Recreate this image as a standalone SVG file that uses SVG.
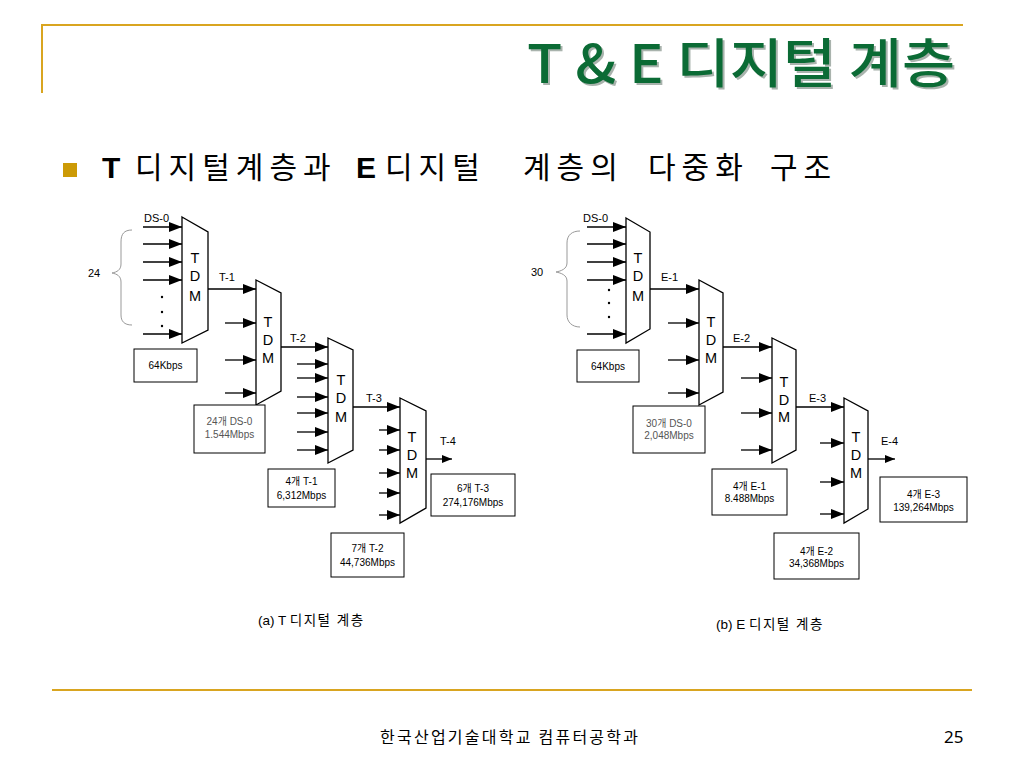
<svg xmlns="http://www.w3.org/2000/svg" width="1024" height="768" viewBox="0 0 1024 768">
<style>
.tdm{fill:#fff;stroke:#000;stroke-width:1.3}
.tl{font-family:"Liberation Sans",Arial,sans-serif;font-size:14.5px;fill:#000;text-anchor:middle}
.lbl{font-family:"Liberation Sans",Arial,sans-serif;font-size:11px;fill:#000}
.box{fill:#fff;stroke:#000;stroke-width:1}
.bt{font-family:"Liberation Sans","Noto Sans CJK KR",sans-serif;font-size:10px;fill:#000;text-anchor:middle}
.gray{fill:#555}
.ar{stroke:#000;stroke-width:1.3;fill:none;marker-end:url(#ah)}
.ao{stroke:#000;stroke-width:1.3;fill:none;marker-end:url(#ahs)}
.brace{fill:none;stroke:#999;stroke-width:1}
.gold{stroke:#d9a520;stroke-width:2;fill:none}
.cap{font-family:"Liberation Sans","Noto Sans CJK KR",sans-serif;font-size:13.5px;fill:#000}
.capk{letter-spacing:1.5px}
.sub{font-family:"Noto Sans CJK KR",sans-serif;font-size:30px;fill:#000;letter-spacing:6px}
.subl{font-family:"Liberation Sans",sans-serif;font-size:30px;font-weight:700;fill:#000}
</style>
<defs>
<marker id="ah" markerUnits="userSpaceOnUse" markerWidth="13" markerHeight="10" refX="13" refY="5" orient="auto"><path d="M0,0 L13,5 L0,10 z" fill="#000"/></marker>
<marker id="ahs" markerUnits="userSpaceOnUse" markerWidth="10" markerHeight="8" refX="10" refY="4" orient="auto"><path d="M0,0 L10,4 L0,8 z" fill="#000"/></marker>
</defs>
<rect width="1024" height="768" fill="#fff"/>
<g id="frame">
<path class="gold" d="M42,93 L42,25 L963,25"/>
<path class="gold" d="M52,690 L972,690"/>
</g>
<g id="title">
<text x="529" y="85" font-family="'Noto Sans CJK KR',sans-serif" font-size="53" font-weight="500" fill="#a9b3ad" textLength="428" lengthAdjust="spacingAndGlyphs">T &amp; E 디지털 계층</text>
<text x="527" y="83" font-family="'Noto Sans CJK KR',sans-serif" font-size="53" font-weight="500" fill="#0b6b35" textLength="428" lengthAdjust="spacingAndGlyphs">T &amp; E 디지털 계층</text>
</g>
<g id="subtitle">
<rect x="63" y="163" width="14" height="14" fill="#cc9a06"/>
<text class="subl" x="102" y="178">T</text>
<text class="sub" x="135" y="178">디지털계층과</text>
<text class="subl" x="356" y="178">E</text>
<text class="sub" x="385" y="178">디지털</text>
<text class="sub" x="523" y="178">계층의</text>
<text class="sub" x="648" y="178">다중화</text>
<text class="sub" x="770" y="178">구조</text>
</g>
<g id="connectors">
<line class="ar" x1="143" y1="227" x2="182" y2="227"/>
<line class="ar" x1="143" y1="244" x2="182" y2="244"/>
<line class="ar" x1="143" y1="262" x2="182" y2="262"/>
<line class="ar" x1="143" y1="280" x2="182" y2="280"/>
<line class="ar" x1="143" y1="334" x2="182" y2="334"/>
<line class="ar" x1="208" y1="289" x2="256" y2="289"/>
<line class="ar" x1="225" y1="323" x2="256" y2="323"/>
<line class="ar" x1="225" y1="360" x2="256" y2="360"/>
<line class="ar" x1="225" y1="393" x2="256" y2="393"/>
<line class="ar" x1="281" y1="347" x2="328" y2="347"/>
<line class="ar" x1="297" y1="364" x2="328" y2="364"/>
<line class="ar" x1="297" y1="378" x2="328" y2="378"/>
<line class="ar" x1="297" y1="397" x2="328" y2="397"/>
<line class="ar" x1="297" y1="413" x2="328" y2="413"/>
<line class="ar" x1="297" y1="432" x2="328" y2="432"/>
<line class="ar" x1="297" y1="450" x2="328" y2="450"/>
<line class="ar" x1="353" y1="407" x2="400" y2="407"/>
<line class="ar" x1="379" y1="430" x2="400" y2="430"/>
<line class="ar" x1="379" y1="450" x2="400" y2="450"/>
<line class="ar" x1="379" y1="473" x2="400" y2="473"/>
<line class="ar" x1="379" y1="493" x2="400" y2="493"/>
<line class="ar" x1="379" y1="515" x2="400" y2="515"/>
<line class="ao" x1="426" y1="459" x2="452" y2="459"/>
<line class="ar" x1="587" y1="227" x2="626" y2="227"/>
<line class="ar" x1="587" y1="244" x2="626" y2="244"/>
<line class="ar" x1="587" y1="262" x2="626" y2="262"/>
<line class="ar" x1="587" y1="280" x2="626" y2="280"/>
<line class="ar" x1="587" y1="334" x2="626" y2="334"/>
<line class="ar" x1="650" y1="289" x2="699" y2="289"/>
<line class="ar" x1="668" y1="323" x2="699" y2="323"/>
<line class="ar" x1="668" y1="360" x2="699" y2="360"/>
<line class="ar" x1="668" y1="393" x2="699" y2="393"/>
<line class="ar" x1="723" y1="347" x2="772" y2="347"/>
<line class="ar" x1="741" y1="378" x2="772" y2="378"/>
<line class="ar" x1="741" y1="413" x2="772" y2="413"/>
<line class="ar" x1="741" y1="450" x2="772" y2="450"/>
<line class="ar" x1="796" y1="407" x2="844" y2="407"/>
<line class="ar" x1="820" y1="443" x2="844" y2="443"/>
<line class="ar" x1="820" y1="482" x2="844" y2="482"/>
<line class="ar" x1="820" y1="514" x2="844" y2="514"/>
<line class="ao" x1="868" y1="459" x2="895" y2="459"/>
</g>
<g id="t-inputs">
<text class="lbl" x="144" y="222">DS-0</text>
<path class="brace" d="M132,230 C124,230 121,234 121,242 L121,264 C121,270 117,272 112,273 C117,274 121,276 121,282 L121,315 C121,321 124,325 132,325"/>
<text class="lbl" x="88" y="277" font-size="13">24</text>
<circle cx="162" cy="297" r="1.2"/><circle cx="162" cy="312" r="1.2"/><circle cx="162" cy="326" r="1.2"/>
</g>
<g id="tdm-t1"><path class="tdm" d="M182,217 L208,232 L208,330 L182,343 Z"/><text class="tl" x="195" y="263">T</text><text class="tl" x="195" y="281">D</text><text class="tl" x="195" y="301">M</text></g>
<g id="tdm-t2"><path class="tdm" d="M256,280 L281,293 L281,391 L256,405 Z"/><text class="tl" x="268" y="327">T</text><text class="tl" x="268" y="345">D</text><text class="tl" x="268" y="363">M</text></g>
<g id="tdm-t3"><path class="tdm" d="M328,338 L353,350 L353,450 L328,463 Z"/><text class="tl" x="341" y="385">T</text><text class="tl" x="341" y="403">D</text><text class="tl" x="341" y="422">M</text></g>
<g id="tdm-t4"><path class="tdm" d="M400,398 L426,411 L426,508 L400,523 Z"/><text class="tl" x="412" y="442">T</text><text class="tl" x="412" y="460">D</text><text class="tl" x="412" y="478">M</text></g>
<g id="t-labels">
<text class="lbl" x="219" y="281">T-1</text>
<text class="lbl" x="290" y="342">T-2</text>
<text class="lbl" x="366" y="402">T-3</text>
<text class="lbl" x="440" y="445">T-4</text>
</g>
<g id="box-t0"><rect class="box" x="134" y="349" width="63" height="33"/><text class="bt" x="165.5" y="369">64Kbps</text></g>
<g id="box-t1"><rect class="box" x="194" y="405" width="71" height="48"/><text class="bt gray" x="229.5" y="425">24개 DS-0</text><text class="bt gray" x="229.5" y="438">1.544Mbps</text></g>
<g id="box-t2"><rect class="box" x="268" y="469" width="67" height="38"/><text class="bt" x="301.5" y="485">4개 T-1</text><text class="bt" x="301.5" y="499">6,312Mbps</text></g>
<g id="box-t3"><rect class="box" x="331" y="533" width="73" height="44"/><text class="bt" x="367.5" y="552">7개 T-2</text><text class="bt" x="367.5" y="566">44,736Mbps</text></g>
<g id="box-t4"><rect class="box" x="431" y="474" width="84" height="42"/><text class="bt" x="473" y="492">6개 T-3</text><text class="bt" x="473" y="506">274,176Mbps</text></g>
<g id="e-inputs">
<text class="lbl" x="583" y="222">DS-0</text>
<path class="brace" d="M580,231 C572,231 567,235 567,243 L567,263 C567,269 561,271 556,272 C561,273 567,275 567,281 L567,315 C567,322 572,327 580,327"/>
<text class="lbl" x="531" y="276" font-size="13">30</text>
<circle cx="609" cy="290" r="1.2"/><circle cx="609" cy="303" r="1.2"/><circle cx="609" cy="317" r="1.2"/>
</g>
<g id="tdm-e1"><path class="tdm" d="M626,218 L650,232 L650,329 L626,343 Z"/><text class="tl" x="638" y="263">T</text><text class="tl" x="638" y="281">D</text><text class="tl" x="638" y="301">M</text></g>
<g id="tdm-e2"><path class="tdm" d="M699,280 L723,293 L723,392 L699,405 Z"/><text class="tl" x="711" y="327">T</text><text class="tl" x="711" y="345">D</text><text class="tl" x="711" y="363">M</text></g>
<g id="tdm-e3"><path class="tdm" d="M772,338 L796,350 L796,450 L772,463 Z"/><text class="tl" x="784" y="387">T</text><text class="tl" x="784" y="405">D</text><text class="tl" x="784" y="422">M</text></g>
<g id="tdm-e4"><path class="tdm" d="M844,398 L868,411 L868,509 L844,523 Z"/><text class="tl" x="856" y="442">T</text><text class="tl" x="856" y="460">D</text><text class="tl" x="856" y="478">M</text></g>
<g id="e-labels">
<text class="lbl" x="661" y="281">E-1</text>
<text class="lbl" x="733" y="342">E-2</text>
<text class="lbl" x="809" y="402">E-3</text>
<text class="lbl" x="881" y="445">E-4</text>
</g>
<g id="box-e0"><rect class="box" x="577" y="350" width="62" height="32"/><text class="bt" x="608" y="370">64Kbps</text></g>
<g id="box-e1"><rect class="box" x="633" y="406" width="72" height="47"/><text class="bt gray" x="669" y="427">30개 DS-0</text><text class="bt gray" x="669" y="439">2,048Mbps</text></g>
<g id="box-e2"><rect class="box" x="712" y="469" width="75" height="46"/><text class="bt" x="749.5" y="490">4개 E-1</text><text class="bt" x="749.5" y="502">8.488Mbps</text></g>
<g id="box-e3"><rect class="box" x="774" y="533" width="85" height="46"/><text class="bt" x="816.5" y="555">4개 E-2</text><text class="bt" x="816.5" y="567">34,368Mbps</text></g>
<g id="box-e4"><rect class="box" x="880" y="477" width="87" height="45"/><text class="bt" x="923.5" y="498">4개 E-3</text><text class="bt" x="923.5" y="511">139,264Mbps</text></g>
<g id="captions">
<text class="cap" x="258" y="625">(a) T <tspan class="capk">디지털 계층</tspan></text>
<text class="cap" x="716" y="629">(b) E <tspan class="capk">디지털 계층</tspan></text>
</g>
<g id="footer">
<text x="380" y="743" font-family="'Noto Sans CJK KR',sans-serif" font-size="16" fill="#000" textLength="258">한국산업기술대학교 컴퓨터공학과</text>
<text x="944" y="743" font-family="'Noto Sans',sans-serif" font-size="17" fill="#000">25</text>
</g>
</svg>
